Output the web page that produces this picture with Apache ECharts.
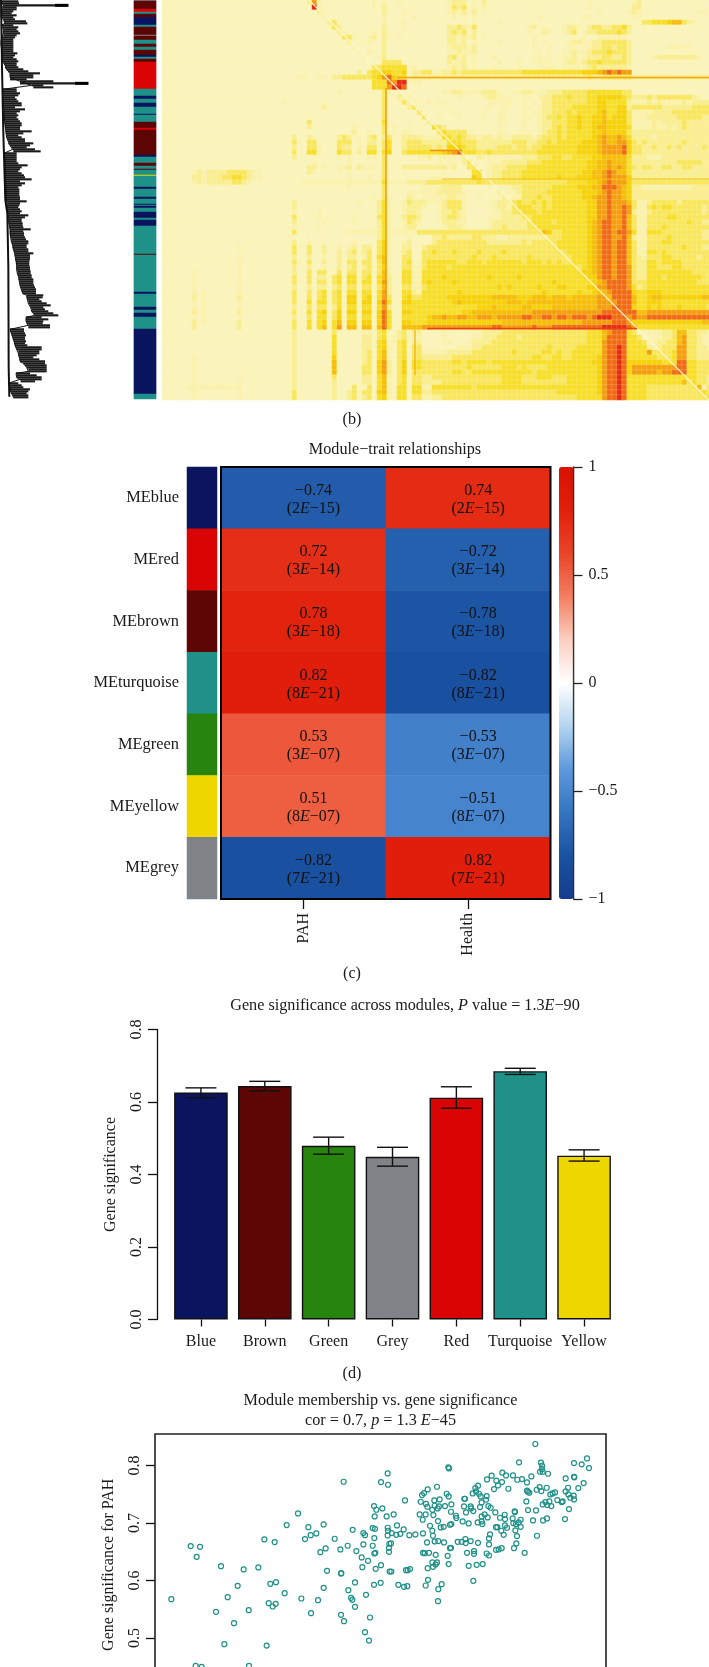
<!DOCTYPE html>
<html><head><meta charset="utf-8">
<script src="https://cdn.jsdelivr.net/npm/echarts@6/dist/echarts.min.js"></script>
<style>html,body{margin:0;padding:0;background:#fff}#c{width:709px;height:1667px}</style>
</head><body><div id="c"></div>
<script>
// ---------- panel (b): dendrogram, read at one row every 6 height units
const dendroBase=[3,3,10,8,3,3,3,3,3,10,12,15,3,8,10,10,10,10,5,5,3,3,3,3,5,5,5,5,5,5,8,12,15,15,20,25,30,30,30,30,60,60,95,100,8,8,8,10,10,10,10,10,10,12,12,12,12,12,12,12,14,14,15,15,17,17,18,20,20,22,25,25,30,35,38,40,12,12,14,14,14,15,15,15,15,15,15,15,15,15,15,17,18,18,18,18,18,18,18,18,
20,22,22,22,22,24,24,26,26,26,26,26,28,28,30,30,30,30,32,34,34,36,38,38,40,42,44,44,46,46,48,48,50,50,50,52,52,54,56,56,58,60,60,62,64,66,68,80,80,82,85,85,90,92,95,95,100,105,78,78,78,80,85,85,30,32,34,36,38,40,42,44,45,48,50,55,55,55,58,60,60,70,75,80,85,85,48,50,50,60,62,25,28,30,30,32,34,38,40];
const dendroTip=[55,57,205,50,50,40,35,50,40,45,78,82,40,55,50,55,60,50,45,40,40,40,40,40,40,40,52,45,40,50,55,50,50,55,70,85,120,100,100,80,160,265,130,160,50,50,60,55,45,50,55,65,65,45,75,60,50,55,50,55,60,65,65,60,60,95,70,55,65,75,75,100,90,80,105,122,50,50,50,50,50,55,83,65,60,55,65,72,75,95,60,75,65,55,58,58,58,58,60,60,
80,60,58,55,60,65,60,85,75,65,65,68,68,70,92,70,72,72,75,78,85,85,80,80,85,85,100,90,90,90,88,88,88,90,90,92,92,95,95,100,100,100,102,105,108,108,108,130,128,118,125,140,152,130,135,145,160,175,125,145,130,128,150,150,72,72,75,78,75,75,78,75,82,125,125,118,118,110,100,118,135,135,140,140,140,140,90,110,125,125,105,55,65,70,90,85,80,85,85];
const dendroTrunkHeight=[3,6,10,16,22,25,26,28];
const dendroTrunkRow=[0,200,400,600,640,800,1100,1190];
const dendroTailStart=[165,225];
const dendroTailEnd=[205,265];
const dendroTailRow=[16,250];

// ---------- panel (b): module colour strip, as runs of gene rows
const stripModule=['Grey','Brown','Red','Turquoise','Brown','Blue','Brown','Blue','Turquoise','Brown','Grey','Brown','Turquoise','Brown','Turquoise','Brown','Blue','Turquoise','Brown','Red','Turquoise','Blue','Turquoise','Blue','Turquoise','Blue','Turquoise','Brown','Red','Brown','Blue','Turquoise','Brown','Turquoise','Brown','Turquoise','Yellow','Turquoise','Blue','Turquoise','Blue','Turquoise','Blue','Turquoise','Blue','Turquoise','Blue','Turquoise','Blue','Turquoise','Brown','Turquoise','Blue','Turquoise','Blue','Turquoise','Blue','Turquoise','Blue','Turquoise'];
const stripGenes=[1,8,3,2,2,1,1,7,2,8,1,4,4,3,3,5,2,2,3,27,7,3,4,4,7,1,7,6,2,25,2,6,3,3,1,5,1,11,2,8,2,5,1,1,2,4,6,2,6,28,1,37,2,13,3,3,4,12,65,5];

// ---------- panel (b): topological overlap, level 0-9, one string per row
const tomRows=[
"0000000000 0000000000 0000000002 7100000000 0010100100 0000000122 2010200000 0000000000 0000010000 0000120000 0000000000",
"0000000000 0000000000 0000000000 9100000000 0010200000 0000000132 3010100000 0000000000 0000010000 0000220000 0000000000",
"0000000000 0000000000 0000000000 0210000000 0000200010 0000000121 2020100000 0000000000 0000000100 0001210000 0000000110",
"0000000000 0000000000 0000000000 0010000000 0000100000 1000000010 1010000000 0000010000 0000110000 0000110000 0000000000",
"0000000000 0000000000 0000000000 0002300000 0000100010 0000000000 0010000100 0000000000 0000000000 0000003344 4566321000",
"0000000000 0000000000 0000000000 0000320000 0000200010 0000000223 2130000000 0001201000 1221023322 3342000000 0000000000",
"0000000000 0000000000 0000000000 0000021000 0010200000 0000000232 3020000000 0001002100 1230122333 3432000000 0000000000",
"0000000000 0000000000 0000000000 0000003310 0120210100 0000000221 2120100000 0000100000 0000100111 1110000000 0000000000",
"0000000000 0000000000 0000000000 0000000200 0100200000 0000000221 2010000100 0000101000 0122112233 3332000000 0000000000",
"0000000000 0000000000 0000000000 0000000010 0000200000 0000000122 2120000000 0000100100 0110112233 2332000000 0111110000",
"0000000000 0000000000 0000000000 0000000001 0100200000 0000000112 1120000000 0000010100 1121123334 3332000000 0000000000",
"0000000000 0000000000 0000000000 0000000000 1001200000 0000000231 2010001000 0000110100 1120122233 2232000012 2222222100",
"0000000000 0000000000 0000000000 0000000000 0000333300 0000000211 2010000100 0100111100 1221233433 3332000000 0000000000",
"0000000000 0000000000 0000000000 0000000000 0033444440 1000000121 2010001000 0100001110 1111123222 2221000000 0000000000",
"0000000000 0000000000 0000000000 0000000002 0344554450 2233112232 3333333333 3344444444 4444555678 7877000000 0000000000",
"0000000000 0000000000 0000000110 0110223333 3345785441 2222222222 2222222222 2222222222 2222232233 3333222222 2222222222",
"0000000000 0000000000 0000000000 0000000000 0044487990 1100000000 0000000000 0000000000 0000000000 0000000000 0000000000",
"0000000000 0000000000 0000000000 0000000000 0044479980 0000000000 0000000000 0000000000 0000000000 0000000000 0000000000",
"0000000000 0000000000 0000000000 0000010000 0000310100 0000001122 1111222100 1122111222 3333344444 4433000000 0000000000",
"0000000000 0000000000 0000000000 0000000000 0000300211 0000000001 0000122111 0011012233 3433344555 5543222323 3333332100",
"0000000000 0000000000 0000100000 0000000000 0000300031 0001011000 0000011111 0010102233 3333344554 4442111212 1111212222",
"0000000000 0000000000 0000000000 0020000000 0000300002 3000000000 0000010011 0011012233 3344444554 4552333333 2222223333",
"0000000000 0000000000 0000000000 0000000000 0000300000 0300000010 0000100110 0010112233 3434444564 4553111122 2233333333",
"0000000000 0000000000 0000000000 0000000000 0000300000 0030010001 0000100110 0011012334 3445445564 5553111222 2223333322",
"0000000000 0000000000 0000000003 0000000000 0000400000 0002000000 0000000110 0010012233 3445445565 5553111121 2222322222",
"0000000000 0000000000 0000000002 0000000010 0000301001 0000432000 0000000100 0010012234 3445445665 5554111121 1212322222",
"0000000000 0000000000 0000000000 0000000020 0100301011 0000034333 3100000110 0111012334 3444445565 5553222222 2222222222",
"0000000000 0000000000 0000002002 1000023201 0230230022 2211114434 3221221211 2222123334 3444445676 6764222212 2222222222",
"0000000000 0000000000 0000003003 3000033301 0220340023 3322222444 3332222222 3332233434 4444555676 6775323222 2222322222",
"0000000000 0000000000 0000002003 3100032201 0330340023 3333232555 4332222333 2332334444 4445555677 7785332232 2323222232",
"0000000000 0000000000 0000003004 4100043302 0440450034 4444445678 4443343333 3333344444 4445555677 7785332222 2222222222",
"0000000000 0000000000 0000002000 1000010100 0110300000 0112011111 2002111111 1122233344 3344445566 6664222111 2222222222",
"0000000000 0000000000 0000000000 1000000100 0000300000 0000010110 2300011122 2223334444 4444455667 6664222222 2223333322",
"0000000000 0000000000 0000000002 2010011202 1110300022 2222222120 0330012223 3334444444 4444455667 6764323322 3322332222",
"0000001212 2223333211 0000000002 1000010100 0000300000 0000001000 0044012233 3344444444 4444556678 7664222222 2222222222",
"0000002212 2233443211 0000000000 0000000100 0100300000 0000110000 0054012233 3344444445 4445556678 7775222222 2222222222",
"0000001212 2222332100 0000000011 1111111111 1111411112 2223333333 3334333333 3333333333 3444455678 7775333333 3333333333",
"0000000000 0000000000 0000000000 0000000100 0000300000 0011112222 0000010111 2233333344 4445556688 8765221111 1111112222",
"0000000000 0000000000 0000000000 0000000000 0000300001 1111122222 1000000201 1233333444 4444555678 7765222222 2222222222",
"0000000000 0000000000 0000000000 0000000000 0010310002 1011111221 1001000020 1133343344 4444556778 7765222222 2222222222",
"0000000000 0000000000 0000002000 0000000001 0002410013 2221112333 1000011222 3433434344 4444455778 7776311233 3332333333",
"0000000000 0000000000 0000002000 0000000000 0002410012 2210012333 1000001221 3444334344 4444455778 7787311343 4433333323",
"0000000000 0000000000 0000001000 0100000000 0002410012 2100012232 1000001122 3344434444 4444455778 7787211233 3333333323",
"0000000000 0000000000 0000003000 0100000010 0003410023 3200012332 1000011122 2233444444 4444455778 7786311333 3443333333",
"0000000000 0000000000 0000002000 0010000010 0002410013 2100002221 1000012222 2223444434 4444456788 7786311333 3333343322",
"0000000000 0000000000 0000001000 0100000000 0002410012 2000001222 1000012232 2223344444 4444456788 7786311333 4333333333",
"0000000000 0000000000 0000003000 0000000111 1112411111 1333333333 3333333333 3333336533 4444456788 7887411444 3333333322",
"0000000000 0000000000 0000000000 0000000000 0002410001 0000223222 2233222112 2222222333 4444456788 7786211333 3433333322",
"0000000000 0000000000 0000002001 0000000010 0003510012 0000233333 3333322222 2232333334 4444456788 7886311333 4433333333",
"0000000000 0000010000 0000003003 0020010120 2203510022 0023333333 3333333333 3333333334 4444456788 7886311333 3333433322",
"0000000000 0000000000 0000003003 0020020230 2303510023 0033433343 3334333343 3333333333 3444456788 7886311443 4333333333",
"0000000000 0000010000 0000002002 0010020220 1304610033 0033333333 3343334333 3334333333 3344456788 7886321333 4433333233",
"0000000000 0000010000 0000003003 0020020330 3303610034 0134444443 3444344444 4434443434 3344456788 7886322443 4444333333",
"0000000000 0000010000 0000002002 0010020230 2303510033 1134444344 4444444444 4444444444 4443456788 7887322443 3344333333",
"0000001000 0000010000 0000002003 0330030330 3303610044 1144444444 4444444444 4444444444 4444556788 7887322444 4444443333",
"0000001000 0000010000 0000003003 0220340440 3404620044 1144445444 4444454444 4544444444 4444455788 7887322444 3444444433",
"0000001000 0000010000 0000003003 0330340440 4404720044 1145444454 4444444444 4444444454 4444445678 8887333444 4444444333",
"0000001000 0000010000 0000002002 0220230330 3303620033 1134444444 4444444545 4444454445 5444455778 8887423444 4444444444",
"0000001010 0000010000 0000003003 0340340440 4404720044 2144444445 4444444444 4444445444 4445445667 8888544555 4444444444",
"0000002010 0000020000 0000003003 0340340550 4504730045 3344444555 5555556666 6555666566 6566666776 8888644566 5555555566",
"0000001010 0000010000 0000003004 0440340550 5505840055 4444444456 5555555556 6656666666 6666666777 7888644555 4444444444",
"0000001010 0000010000 0000002003 0330240440 4404720044 4444444444 4445556555 5566555566 6666666777 8888544545 4445444443",
"0000002010 0000020000 0000003004 0450350550 5505840055 4444444444 5566666666 6666777777 7777777788 8888866777 7777777777",
"0000001010 0000010000 0000002003 0440350440 4405840044 4445667667 7667776777 7788778878 8788878999 8887877888 8888888888",
"0000002010 0000020000 0000003004 0450460550 5505840055 4445555555 5555555566 6666666666 6666777777 8887555555 5555555566",
"0000002000 0000020000 0000003004 0460470660 6606840066 6677777777 7777778877 7777877788 8888888899 9998744444 4444444444",
"0000000000 0000000000 0000002000 0000300000 1103400230 2200001000 0011222233 3333333333 3333344467 8884300111 2236633221",
"0000000000 0000000000 0000002000 0000400000 2203401231 1100001000 0011222333 3233333333 3333344468 8884430011 2236733211",
"0000000000 0000000000 0000002000 0000400000 2204501340 2200001100 0122223333 3333333333 3333344478 8884443112 2336733211",
"0000000000 0000000000 0000002000 0000400000 2204510340 3300000001 1122333333 3333333433 3334444478 8984444212 3337733221",
"0000000000 0000000000 0000002000 0000400000 2304610340 3311111222 2233333333 4333334434 3344444478 8984444733 3347733222",
"0000001000 0000000000 0000002000 0000500000 2304610340 3322222233 3333333333 3333443344 3344444578 8984444443 3347733222",
"0000001000 0000000000 0000002000 0000600000 2305720350 4433333344 3444434444 4444444444 4444445578 8985555555 4448844333",
"0000001000 0000000000 0000002000 0000600000 3305720350 4433333333 3433333344 4343333444 4444444578 8985777777 7778844333",
"0000001000 0000000000 0000002000 0000600000 3305720350 3333333344 3344444444 4444344444 4444444578 8985777776 7788844333",
"0000001000 0000010000 0000002000 0000300000 2204610340 3322333333 3333333344 4433344433 3444444578 8984444444 4444444332",
"0000001000 0000010000 0000002000 0000200000 2204610340 3322223333 3333333344 4433333333 3444444578 8984444444 4444634332",
"0000011111 1111110000 0000002000 0000200030 0304610440 4411444444 4434444444 4444444444 4444444578 8984444333 3333333613",
"0000001000 0000010000 0000003000 0000200230 3305610440 4422333333 3333333333 3333333334 4444444578 8984444333 3333333343",
"0000001000 0000010000 0000003000 0000200230 2304510440 3311223333 3333333333 3333333333 3334444478 8984444333 3333333334"];
const tomLevelColors=['#FAF4BA','#FAF2AC','#F9EE90','#F8E75E','#F7DE28','#F6D208','#F5BE08','#F49E0E','#F06A14','#E62A12'];

// thin features of panel (b): gene position pairs and row pairs
const tomLineGeneA=[147,224,235,280,265,268,253];
const tomLineGeneB=[547,224,547,547,475,300,253];
const tomLineRowA=[0,88,77.5,179,328.5,150.5,330];
const tomLineRowB=[400,328,77.5,179,328.5,150.5,375];

// ---------- panel (c)
const traitModules=['MEblue','MEred','MEbrown','MEturquoise','MEgreen','MEyellow','MEgrey'];
const traitNames=['PAH','Health'];
const pahCor=[-0.74,0.72,0.78,0.82,0.53,0.51,-0.82];
const healthCor=[0.74,-0.72,-0.78,-0.82,-0.53,-0.51,0.82];
const traitP=['2E−15','3E−14','3E−18','8E−21','3E−07','8E−07','7E−21'];
const traitCorStops=['#143C8C','#1B52A2','#3474C0','#5C98DC','#B4D4F0','#FFFFFF','#FBCFC0','#F37E60','#EA4428','#E1200C','#DA1000'];

// ---------- panel (d)
const moduleNames=['Blue','Brown','Green','Grey','Red','Turquoise','Yellow'];
const moduleColors={Blue:'#0B155F',Brown:'#5E0505',Green:'#26840F',Grey:'#808488',Red:'#D90505',Turquoise:'#1F9188',Yellow:'#EED600'};
const geneSignificance=[0.626,0.644,0.479,0.449,0.612,0.685,0.452];
const errorLow=[0.612,0.631,0.456,0.423,0.583,0.676,0.437];
const errorHigh=[0.639,0.657,0.503,0.475,0.642,0.693,0.468];

// ---------- panel (e)
const membership=[.4905,.5465,.5565,.5570,.4220,.5360,.5395,.5485,.5370,.5550,.4050,.4375,.4605,.5040,.5340,.5375,.5565,.5570,.5565,.4410,.4495,.4325,.3715,.3870,.4770,.5200,.5225,.5365,.5200,.4965,.5340,.5590,.5585,.2610,.2750,.2700,.4555,.4635,.4855,.5095,.5365,.5380,.5585,.5175,.5270,.3065,.3405,.3625,.4655,.4870,.4865,.5185,.5385,.5465,.5595,.3315,.3805,.3890,.5075,.5360,.5460,.4605,.4975,.4020,.2320,.3165,.3780,.3885,.3840,.4270,.4520,.5015,.5035,.5075,.5240,.2990,.3480,.4415,.4865,.4910,.5300,.3260,.5225,.5285,.3115,.3750,.2685,.2775,.3485,
.7780,.7535,.8360,.8475,.8555,.8585,.7865,.7880,.7880,.7850,.7890,.6475,.6485,.7970,.7285,.7125,.7340,.7445,.7055,.7195,.7510,.7580,.7655,.7720,.8235,.8360,.8365,.7280,.7220,.7160,.6920,.6880,.6305,.6165,.7375,.7800,.7845,.7950,.7870,.7655,.7670,.7690,.8270,.8235,.8425,.8505,.8075,.8040,.8005,.8275,.8305,.8355,.8360,.6110,.6080,.6450,.6480,.6840,.6890,.6935,.6960,.7050,.6715,.6725,.6345,.6265,.5825,.6060,.6140,.6425,.6520,.6270,.6335,.6315,.6160,.6235,.6710,.6810,.6815,.6740,.6850,.6950,.6975,.7040,.7075,.7110,.7180,.7645,.7890,.7930,.7990,.7960,.8020,.8110,.8175,.8190,.8285,.7670,.7790,.7470,.7475,.7320,.7325,.7250,.6045,.6135,.6250,.5655,.7020,.7065,.6975,.6590,.6595,.6515,.6320,.6690,.6780,.6915,.6975,.6985,.7440,.7560,.7530,.7450,.7490,.7560,.7745,.7895,.7955,.8225,.6090,.6200,.6360,.6405,.6500,.6520,.5705,.5805,.7190,.7210,.7325,.7355,.7270,.7480,.6235,.6245,.6095,.5890,.5980,.5695,.5755,.5625,.7100,.7085,.7305,.7505,.7805,.6155,.6270,.6325,.6410,.6615,.6675,.6730,.6735,.6810,.6920,.7085,.7495,.5615,.7460,.7275,.7230,.7190,.6500,.6515,.6095,.6120,.6185,.6285,.6465,.6755,.6860,.6860,.7050,.7085,.7620,.6235,.6305,.6285,.6245,.6165,.6480,.6780,.6900,.6990,.5620,.5840,.5865,.5900,.6170,.6850,.5725,.5810,.5860,.6135,.6375,.6325,.6320];
const significance=[.7716,.7710,.7861,.7664,.7165,.7293,.7229,.7252,.7113,.7113,.6962,.6927,.6974,.6881,.6910,.6898,.6916,.6864,.6782,.6788,.6817,.6719,.6713,.6667,.6725,.6823,.6788,.6736,.6626,.6603,.6603,.6638,.6568,.6597,.6585,.6411,.6492,.6556,.6539,.6510,.6469,.6481,.6498,.6400,.6342,.6249,.6191,.6226,.6168,.6127,.6121,.6231,.6202,.6266,.6156,.5907,.5941,.5970,.5965,.5924,.5959,.5872,.5831,.5779,.5675,.5710,.5605,.5593,.5547,.5686,.5657,.5698,.5663,.5541,.5750,.5454,.5483,.5431,.5402,.5292,.5356,.5257,.5100,.4955,.4892,.4868,.4515,.4497,.4515,
.8372,.8053,.8041,.8018,.8122,.7954,.8047,.7995,.7937,.7890,.7890,.7966,.7948,.7855,.7873,.7821,.7826,.7826,.7757,.7734,.7751,.7763,.7705,.7809,.7774,.7803,.7792,.7710,.7652,.7589,.7647,.7606,.7629,.7583,.7594,.7577,.7623,.7612,.7554,.7560,.7542,.7525,.7612,.7548,.7606,.7693,.7531,.7513,.7496,.7496,.7438,.7473,.7409,.7519,.7484,.7507,.7461,.7513,.7548,.7507,.7461,.7467,.7420,.7420,.7409,.7391,.7391,.7368,.7333,.7293,.7322,.7299,.7287,.7252,.7281,.7229,.7287,.7287,.7252,.7183,.7206,.7275,.7357,.7403,.7293,.7264,.7183,.7374,.7322,.7362,.7374,.7310,.7293,.7397,.7362,.7374,.7241,.7223,.7217,.7200,.7188,.7142,.7067,.7090,.7148,.7148,.7136,.7148,.7148,.7096,.7113,.7125,.7084,.7194,.7032,.7026,.6991,.7009,.7026,.6980,.7078,.7055,.7009,.6997,.6980,.6933,.7043,.7043,.7078,.7067,.7055,.6951,.6922,.6933,.6968,.6980,.6956,.6887,.6927,.6927,.6956,.6916,.6864,.6869,.6864,.6777,.6817,.6788,.6800,.6794,.6811,.6823,.6800,.6730,.6794,.6771,.6777,.6661,.6678,.6684,.6661,.6672,.6672,.6719,.6649,.6684,.6655,.6626,.6643,.6643,.6562,.6562,.6539,.6533,.6562,.6568,.6481,.6475,.6481,.6446,.6429,.6481,.6510,.6463,.6469,.6434,.6481,.6313,.6313,.6278,.6237,.6214,.6284,.6255,.6272,.6284,.6156,.6179,.6179,.6197,.6011,.5994,.5924,.5889,.5901,.5912,.5936,.5849,.5640];

// ---------- drawing
const SERIF='"Liberation Serif", serif';
const TXT='#1a1a1a';
const T=(text,x,y,extra)=>Object.assign({text,left:x,top:y-10,textAlign:'center',padding:0,
  textStyle:{fontFamily:SERIF,fontSize:16.2,fontWeight:'normal',color:TXT,
    rich:{i:{fontFamily:SERIF,fontSize:16.2,fontStyle:'italic',color:TXT}}}},extra||{});
const hidden=(gridIndex,type,min,max,inverse)=>({gridIndex,type,min,max,inverse:!!inverse,show:false});
const cats=n=>Array.from({length:n},(_,i)=>i);

const stripRows=[];
stripModule.forEach((m,k)=>{for(let i=0;i<stripGenes[k];i++)stripRows.push(m);});
const tomCells=[];
tomRows.forEach((row,r)=>{const s=row.replace(/ /g,'');for(let c=0;c<s.length;c++)tomCells.push([c,r,+s[c]]);});

const grids=[
 {left:0,top:0,width:160,height:400},
 {left:134,top:0,width:22,height:399},
 {left:162,top:0,width:550,height:400},
 {left:162,top:0,width:550,height:400},
 {left:187,top:467,width:30,height:432},
 {left:221,top:467,width:329.5,height:432,show:true,backgroundColor:'transparent',borderColor:'#000',borderWidth:2,z:10},
 {left:559,top:467,width:14.5,height:432},
 {left:169,top:1029.5,width:447,height:290},
 {left:155,top:1434,width:451,height:261.5,show:true,backgroundColor:'transparent',borderColor:'#222',borderWidth:1.6,z:10}
].map(g=>Object.assign(g,{outerBoundsMode:'none',containLabel:false}));
const axisFont={fontFamily:SERIF,fontSize:16,color:TXT};
const xAxes=[
 hidden(0,'value',0,480),
 {gridIndex:1,type:'category',data:[0],show:false},
 {gridIndex:2,type:'category',data:cats(110),show:false},
 hidden(3,'value',0,550),
 {gridIndex:4,type:'category',data:[0],show:false},
 {gridIndex:5,type:'category',data:traitNames,axisLine:{show:false},
   axisTick:{show:true,alignWithLabel:true,length:10,lineStyle:{color:'#111',width:1.3}},
   axisLabel:Object.assign({rotate:90,margin:14,interval:0},axisFont)},
 hidden(6,'value',0,1),
 {gridIndex:7,type:'category',data:moduleNames,axisLine:{show:false},
   axisTick:{show:true,alignWithLabel:true,length:7,lineStyle:{color:'#111',width:1.3}},
   axisLabel:Object.assign({margin:14,interval:0},axisFont)},
 hidden(8,'value',0.2075,0.884)
];
const yAxes=[
 hidden(0,'value',0,1200,true),
 {gridIndex:1,type:'category',data:cats(stripRows.length),inverse:true,show:false},
 {gridIndex:2,type:'category',data:cats(tomRows.length),inverse:true,show:false},
 hidden(3,'value',0,400,true),
 {gridIndex:4,type:'category',data:traitModules,inverse:true,axisLine:{show:false},axisTick:{show:false},
   axisLabel:Object.assign({margin:8,interval:0},axisFont,{fontSize:16.4})},
 {gridIndex:5,type:'category',data:traitModules,inverse:true,show:false},
 {gridIndex:6,type:'value',min:-1,max:1,interval:0.5,position:'right',splitLine:{show:false},z:20,
   axisLine:{show:true,onZero:false,lineStyle:{color:'#333',width:1.3}},
   axisTick:{show:true,length:9,lineStyle:{color:'#222',width:1.3}},
   axisLabel:Object.assign({margin:15,formatter:v=>String(v).replace('-','−')},axisFont)},
 {gridIndex:7,type:'value',min:0,max:0.8,interval:0.2,splitLine:{show:false},offset:12,
   axisLine:{show:true,lineStyle:{color:'#111',width:1.3}},
   axisTick:{show:true,length:9,lineStyle:{color:'#111',width:1.3}},
   axisLabel:Object.assign({rotate:90,margin:12,formatter:v=>v.toFixed(1)},axisFont),
   name:'Gene significance',nameLocation:'middle',nameRotate:90,nameGap:38,nameTextStyle:axisFont},
 {gridIndex:8,type:'value',min:0.4,max:0.8546,splitLine:{show:false},
   axisLine:{show:false},
   axisTick:{show:true,length:9,customValues:[0.4,0.5,0.6,0.7,0.8],lineStyle:{color:'#111',width:1.3}},
   axisLabel:Object.assign({rotate:90,margin:12,customValues:[0.4,0.5,0.6,0.7,0.8],formatter:v=>v.toFixed(1)},axisFont),
   name:'Gene significance for PAH',nameLocation:'middle',nameRotate:90,nameGap:38,nameTextStyle:axisFont}
];

const series=[];
// dendrogram
series.push({type:'line',xAxisIndex:0,yAxisIndex:0,silent:true,symbol:'none',
  data:dendroTrunkHeight.map((h,i)=>[h,dendroTrunkRow[i]]),lineStyle:{color:'#111',width:2}});
series.push({type:'custom',xAxisIndex:0,yAxisIndex:0,silent:true,clip:false,
  data:dendroBase.map((b,i)=>[b,dendroTip[i],i*6+4]),
  renderItem(p,api){const a=api.coord([api.value(0),api.value(2)]),b=api.coord([api.value(1),api.value(2)]);
    return {type:'line',shape:{x1:a[0],y1:a[1],x2:b[0],y2:b[1]},style:{stroke:'#1a1a1a',lineWidth:2.1}};}});
series.push({type:'line',xAxisIndex:0,yAxisIndex:0,silent:true,symbol:'none',
  data:dendroBase.map((b,i)=>[b,i*6+4]),lineStyle:{color:'#111',width:1}});
series.push({type:'custom',xAxisIndex:0,yAxisIndex:0,silent:true,
  data:dendroTailStart.map((s,i)=>[s,dendroTailEnd[i],dendroTailRow[i]]),
  renderItem(p,api){const a=api.coord([api.value(0),api.value(2)]),b=api.coord([api.value(1),api.value(2)]);
    return {type:'line',shape:{x1:a[0],y1:a[1],x2:b[0],y2:b[1]},style:{stroke:'#000',lineWidth:3}};}});
// module strip (b)
series.push({type:'heatmap',xAxisIndex:1,yAxisIndex:1,silent:true,progressive:0,
  data:stripRows.map((m,i)=>({value:[0,i,1],itemStyle:{color:moduleColors[m]}}))});
// overlap map
const tomIdx=series.length;
series.push({type:'heatmap',xAxisIndex:2,yAxisIndex:2,silent:true,progressive:0,data:tomCells,
  itemStyle:{borderColor:'rgba(255,252,215,0.3)',borderWidth:0.6}});
const lineColors=['#FCF8D0','#F39A10','#F3A510','#F5C010','#EA4015','#F0900F','#F5B000'];
const lineWidths=[1.1,1.5,1.5,1,1.5,1.5,1.2];
tomLineGeneA.forEach((g,i)=>series.push({type:'line',xAxisIndex:3,yAxisIndex:3,silent:true,symbol:'none',
  data:[[g,tomLineRowA[i]],[tomLineGeneB[i],tomLineRowB[i]]],lineStyle:{color:lineColors[i],width:lineWidths[i]}}));
// panel (c)
const moduleOfTrait=['Blue','Red','Brown','Turquoise','Green','Yellow','Grey'];
series.push({type:'heatmap',xAxisIndex:4,yAxisIndex:4,silent:true,progressive:0,
  data:traitModules.map((m,i)=>({value:[0,i,1],itemStyle:{color:moduleColors[moduleOfTrait[i]]}}))});
const traitIdx=series.length;
const fmtCor=v=>v.toFixed(2).replace('-','−');
const traitCells=[];
traitModules.forEach((m,i)=>{traitCells.push([0,i,pahCor[i],traitP[i]]);traitCells.push([1,i,healthCor[i],traitP[i]]);});
series.push({type:'heatmap',xAxisIndex:5,yAxisIndex:5,silent:true,progressive:0,data:traitCells,
  label:{show:true,color:'#111',fontFamily:SERIF,fontSize:16,lineHeight:18,offset:[10,1.5],
    formatter:p=>fmtCor(p.data[2])+'\n('+p.data[3].replace('E','{e|E}')+')',
    rich:{e:{fontFamily:SERIF,fontSize:16,fontStyle:'italic',color:'#111',lineHeight:18}}}});
// colour-key axis
series.push({type:'line',xAxisIndex:6,yAxisIndex:6,silent:true,symbol:'none',data:[[1,-1],[1,1]],lineStyle:{color:'#333',width:1.3}});
// panel (d)
series.push({type:'bar',xAxisIndex:7,yAxisIndex:7,silent:true,barWidth:53.6,
  data:geneSignificance.map((v,i)=>({value:v,itemStyle:{color:moduleColors[moduleNames[i]],borderColor:'#111',borderWidth:1.4}}))});
series.push({type:'custom',xAxisIndex:7,yAxisIndex:7,silent:true,z:5,
  data:errorLow.map((l,i)=>[i,l,errorHigh[i]]),
  renderItem(p,api){const a=api.coord([api.value(0),api.value(1)]),b=api.coord([api.value(0),api.value(2)]);const w=15.5,st={stroke:'#111',lineWidth:1.4};
    return {type:'group',children:[
      {type:'line',shape:{x1:a[0],y1:a[1],x2:b[0],y2:b[1]},style:st},
      {type:'line',shape:{x1:a[0]-w,y1:a[1],x2:a[0]+w,y2:a[1]},style:st},
      {type:'line',shape:{x1:b[0]-w,y1:b[1],x2:b[0]+w,y2:b[1]},style:st}]};}});
// panel (e)
series.push({type:'scatter',xAxisIndex:8,yAxisIndex:8,silent:true,symbol:'circle',symbolSize:5,
  data:membership.map((m,i)=>[m,significance[i]]),
  itemStyle:{color:'rgba(0,0,0,0)',borderColor:'#1F9088',borderWidth:1.2,opacity:1}});

const chart=echarts.init(document.getElementById('c'),null,{renderer:'canvas'});
chart.setOption({
 animation:false,backgroundColor:'#fff',
 title:[
  T('(b)',352,422),
  T('Module−trait relationships',395,452),
  T('(c)',352,976),
  T('Gene significance across modules, {i|P} value = 1.3{i|E}−90',405,1008),
  T('(d)',352,1376),
  T('Module membership vs. gene significance',380.5,1403),
  T('cor = 0.7, {i|p} = 1.3 {i|E}−45',380.5,1423)
 ],
 grid:grids,xAxis:xAxes,yAxis:yAxes,
 visualMap:[
  {type:'continuous',show:false,seriesIndex:tomIdx,dimension:2,min:0,max:9,inRange:{color:tomLevelColors}},
  {type:'continuous',show:true,seriesIndex:traitIdx,dimension:2,min:-1,max:1,calculable:false,
   left:559,top:467,itemWidth:14.5,itemHeight:432,padding:0,text:null,showLabel:false,
   textStyle:{fontSize:0,color:'transparent'},inRange:{color:traitCorStops}}
 ],
 series
});
</script></body></html>
